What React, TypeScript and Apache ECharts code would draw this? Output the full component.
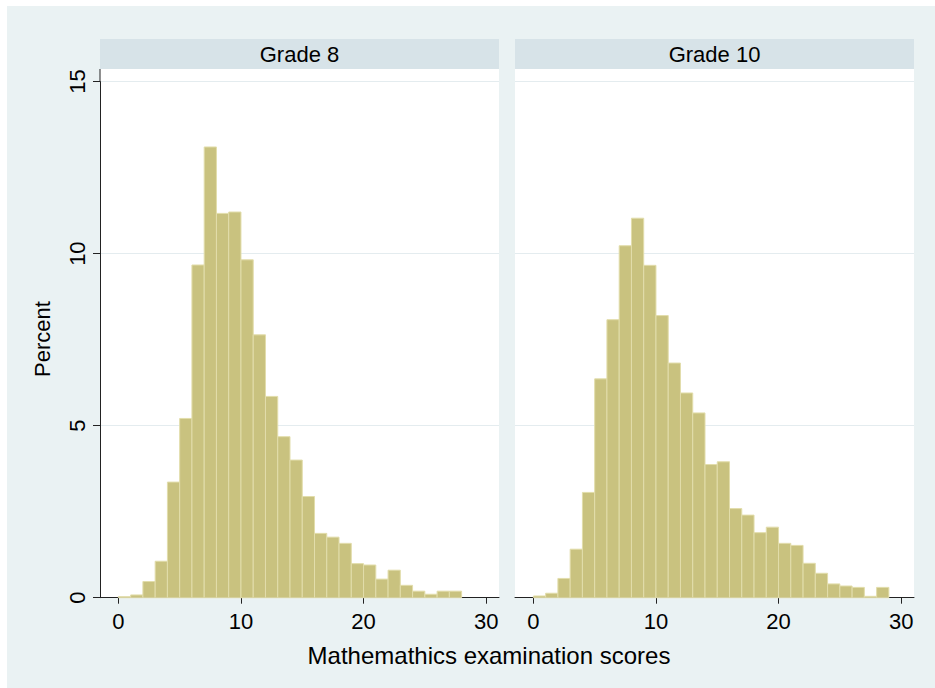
import React, { useEffect, useRef } from "react";
import * as echarts from "echarts";

// Histogram bins of width 1 (lower edge of each bin), percent of students
const grade8Bins = [0, 1, 2, 3, 4, 5, 6, 7, 8, 9, 10, 11, 12, 13, 14, 15, 16, 17, 18, 19, 20, 21, 22, 23, 24, 25, 26, 27];
const grade8Percent = [0.03, 0.08, 0.47, 1.06, 3.36, 5.21, 9.67, 13.1, 11.17, 11.21, 9.82, 7.64, 5.85, 4.68, 4.0, 2.94, 1.87, 1.76, 1.58, 0.99, 0.95, 0.54, 0.8, 0.36, 0.19, 0.1, 0.19, 0.19];

const grade10Bins = [0, 1, 2, 3, 4, 5, 6, 7, 8, 9, 10, 11, 12, 13, 14, 15, 16, 17, 18, 19, 20, 21, 22, 23, 24, 25, 26, 27, 28];
const grade10Percent = [0.05, 0.13, 0.56, 1.41, 3.06, 6.36, 8.08, 10.23, 11.03, 9.66, 8.2, 6.82, 5.95, 5.37, 3.87, 3.95, 2.59, 2.4, 1.89, 2.05, 1.58, 1.52, 1.0, 0.71, 0.4, 0.34, 0.3, 0.04, 0.3];

const binWidth = 1;
const panelTitles = ["Grade 8", "Grade 10"];
const xTickValues = [0, 10, 20, 30];
const yTitle = "Percent";
const xTitle = "Mathemathics examination scores";

const FONT = "'Liberation Sans', Arial, sans-serif";
const FONT_SIZE = 22;
const TITLE_SIZE = 24;
const BG = "#eaf2f3";
const STRIP = "#d7e3e8";
const BAR_FILL = "#c9c27f";
const BAR_EDGE = "#e2ddab";
const GRID_LINE = "#e4ecef";
const AXIS = "#222222";

// panel geometry (pixels)
const PANEL_TOP = 69;
const Y15 = 81.6;
const BASE = 597.7;
const PANELS = [
  { left: 100, right: 499 },
  { left: 515, right: 914 },
];
const X_MIN = -1.5;
const X_MAX = 31.05;

function histData(bins: number[], values: number[]) {
  return bins.map((b, i) => [b, b + binWidth, values[i]]);
}

export default function App() {
  const ref = useRef<HTMLDivElement>(null);

  useEffect(() => {
    if (!ref.current) return;
    const chart = echarts.init(ref.current, null, { renderer: "svg", width: 935, height: 688 });

    const renderBar = (params: any, api: any) => {
      const p0 = api.coord([api.value(0), api.value(2)]);
      const p1 = api.coord([api.value(1), 0]);
      return {
        type: "rect",
        shape: { x: p0[0], y: p0[1], width: p1[0] - p0[0], height: p1[1] - p0[1] },
        style: { fill: BAR_FILL, stroke: BAR_EDGE, lineWidth: 1 },
      };
    };

    const grids = PANELS.map((p) => ({
      left: p.left,
      right: 935 - p.right,
      top: Y15,
      bottom: 688 - BASE,
      containLabel: false,
    }));

    const xAxes = PANELS.map((_, i) => ({
      type: "value",
      gridIndex: i,
      min: X_MIN,
      max: X_MAX,
      axisLine: { show: true, lineStyle: { color: AXIS, width: 1 } },
      axisTick: { show: true, length: 6, customValues: xTickValues, lineStyle: { color: AXIS } },
      axisLabel: {
        show: true,
        customValues: xTickValues,
        margin: 13,
        fontFamily: FONT,
        fontSize: FONT_SIZE,
        color: "#000",
      },
      splitLine: { show: false },
    }));

    const yAxes = PANELS.map((_, i) => ({
      type: "value",
      gridIndex: i,
      min: 0,
      max: 15,
      interval: 5,
      axisLine: { show: i === 0, onZero: false, lineStyle: { color: AXIS, width: 1 } },
      axisTick: { show: i === 0, length: 7, lineStyle: { color: AXIS } },
      axisLabel: {
        show: i === 0,
        rotate: 90,
        margin: 12,
        fontFamily: FONT,
        fontSize: FONT_SIZE,
        color: "#000",
      },
      splitLine: { show: true, lineStyle: { color: GRID_LINE, width: 1 } },
    }));

    const graphic: any[] = [
      { type: "rect", z: -20, shape: { x: 7, y: 6, width: 935 - 7, height: 688 - 6 }, style: { fill: BG } },
    ];
    PANELS.forEach((p, i) => {
      graphic.push({
        type: "rect",
        z: -10,
        shape: { x: p.left, y: PANEL_TOP, width: p.right - p.left, height: BASE - PANEL_TOP },
        style: { fill: "#ffffff" },
      });
      graphic.push({
        type: "rect",
        z: -10,
        shape: { x: p.left, y: 39, width: p.right - p.left, height: 30 },
        style: { fill: STRIP },
      });
      graphic.push({
        type: "text",
        z: 10,
        x: (p.left + p.right) / 2,
        y: 54,
        style: {
          text: panelTitles[i],
          fontFamily: FONT,
          fontSize: FONT_SIZE,
          fill: "#000",
          align: "center",
          verticalAlign: "middle",
        },
      });
    });
    // y axis line continues up to the top of the plot region
    graphic.push({
      type: "line",
      z: 10,
      shape: { x1: 100, y1: PANEL_TOP, x2: 100, y2: Y15 },
      style: { stroke: AXIS, lineWidth: 1 },
    });
    graphic.push({
      type: "text",
      z: 10,
      x: 42,
      y: 339,
      rotation: Math.PI / 2,
      style: {
        text: yTitle,
        fontFamily: FONT,
        fontSize: FONT_SIZE,
        fill: "#000",
        align: "center",
        verticalAlign: "middle",
      },
    });
    graphic.push({
      type: "text",
      z: 10,
      x: 489,
      y: 655,
      style: {
        text: xTitle,
        fontFamily: FONT,
        fontSize: TITLE_SIZE,
        fill: "#000",
        align: "center",
        verticalAlign: "middle",
      },
    });

    chart.setOption({
      animation: false,
      backgroundColor: "#ffffff",
      grid: grids,
      xAxis: xAxes,
      yAxis: yAxes,
      graphic,
      series: [
        {
          type: "custom",
          xAxisIndex: 0,
          yAxisIndex: 0,
          renderItem: renderBar,
          encode: { x: [0, 1], y: 2 },
          data: histData(grade8Bins, grade8Percent),
        },
        {
          type: "custom",
          xAxisIndex: 1,
          yAxisIndex: 1,
          renderItem: renderBar,
          encode: { x: [0, 1], y: 2 },
          data: histData(grade10Bins, grade10Percent),
        },
      ],
    } as any);

    return () => chart.dispose();
  }, []);

  return (
    <div
      ref={ref}
      style={{ position: "absolute", left: 0, top: 0, width: 935, height: 688 }}
    />
  );
}
